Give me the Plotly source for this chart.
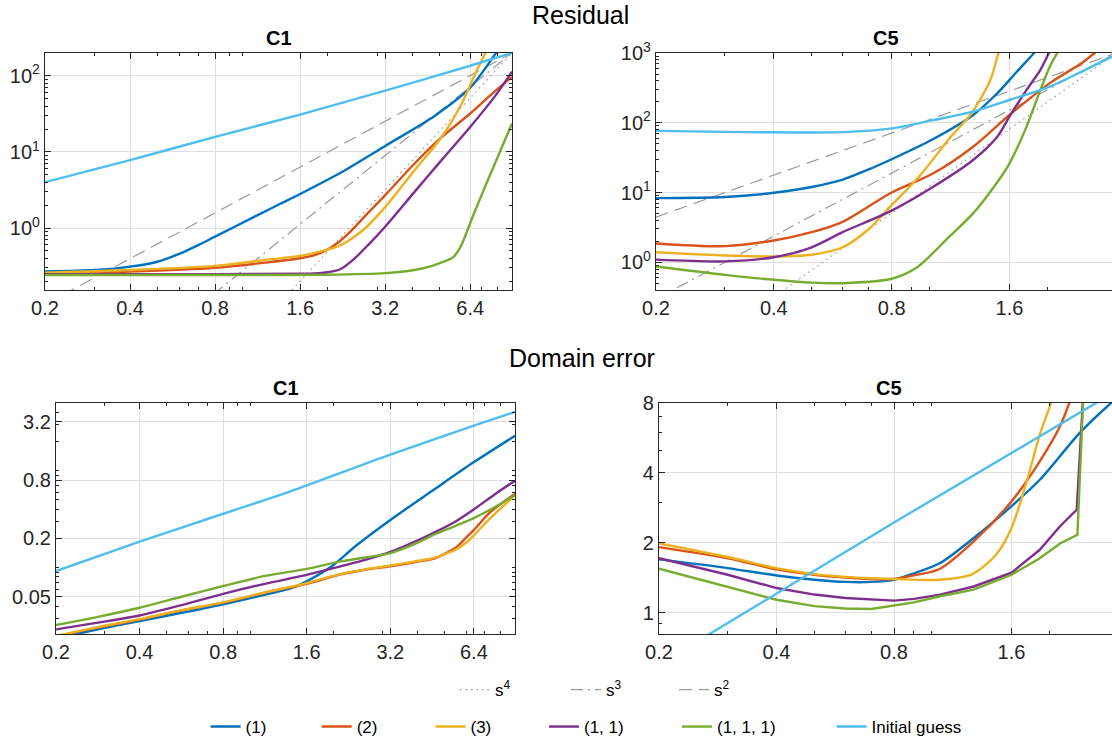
import math
import plotly.graph_objects as go

# ---------------- data ----------------
SERIES = ["(1)", "(2)", "(3)", "(1, 1)", "(1, 1, 1)", "Initial guess"]
COLORS = ["#0072BD", "#D95319", "#EDB120", "#7E2F8E", "#77AC30", "#4DBEEE"]

REF_NAMES = ["s<sup>4</sup>", "s<sup>3</sup>", "s<sup>2</sup>"]

# Residual, C1
res_c1_x1 = [0.2, 0.3, 0.4, 0.5, 0.6, 0.7, 0.8, 1.1, 1.35, 1.6, 2.2, 3.2, 4.8, 6.4, 7.9, 8.3]
res_c1_y1 = [0.268, 0.28, 0.31, 0.36, 0.46, 0.6, 0.77, 1.4, 2.05, 2.8, 5.2, 12, 30, 70, 200, 256]
res_c1_x2 = [0.2, 0.4, 0.8, 1.2, 1.6, 1.8, 2.0, 2.2, 2.4, 2.7, 3.2, 4.06, 5.06, 6.4, 7.8, 9]
res_c1_y2 = [0.254, 0.268, 0.30, 0.35, 0.40, 0.44, 0.52, 0.66, 0.88, 1.4, 2.7, 7.0, 15.5, 32, 62, 97]
res_c1_x3 = [0.2, 0.4, 0.8, 1.2, 1.6, 1.8, 2.0, 2.2, 2.4, 2.7, 3.2, 4.06, 5.06, 5.98, 6.6, 7.25, 7.5]
res_c1_y3 = [0.258, 0.28, 0.318, 0.38, 0.43, 0.47, 0.52, 0.58, 0.70, 0.97, 1.88, 5.7, 15.5, 43.6, 98, 200, 250]
res_c1_x11 = [0.2, 0.8, 1.6, 1.8, 2.0, 2.22, 2.48, 2.8, 3.2, 4.06, 5.06, 6.4, 7.8, 9]
res_c1_y11 = [0.246, 0.247, 0.25, 0.252, 0.262, 0.287, 0.39, 0.61, 1.04, 2.96, 7.75, 21.3, 53, 114]
res_c1_x111 = [0.2, 1.0, 2.0, 3.2, 4.06, 4.6, 5.0, 5.3, 5.56, 5.9, 6.25, 6.6, 7.4, 8.2, 9]
res_c1_y111 = [0.241, 0.241, 0.243, 0.255, 0.28, 0.31, 0.345, 0.375, 0.41, 0.555, 0.92, 1.55, 4.3, 10.5, 23.7]
res_c1_xig = [0.2, 0.4, 0.8, 1.6, 3.2, 6.4, 9]
res_c1_yig = [4.0, 7.8, 15.8, 31, 64, 136, 200]
# reference slopes (end points)
res_c1_ref_x = [0.2, 9]
res_c1_ref_s4 = [4.88e-5, 200]
res_c1_ref_s3 = [0.00219, 200]
res_c1_ref_s2 = [0.0988, 200]

# Residual, C5
res_c5_x1 = [0.2, 0.3, 0.4, 0.5, 0.6, 0.7, 0.8, 1.02, 1.29, 1.49, 1.66, 1.85, 1.95]
res_c5_y1 = [8.3, 8.6, 9.9, 12.0, 15.3, 21.5, 30, 58, 128, 265, 516, 1000, 1400]
res_c5_x2 = [0.2, 0.3, 0.4, 0.5, 0.6, 0.8, 1.02, 1.29, 1.6, 2.03, 2.45, 2.64, 2.75]
res_c5_y2 = [1.86, 1.70, 2.05, 2.7, 3.8, 10, 18.7, 45, 129, 370, 718, 1000, 1200]
res_c5_x3 = [0.2, 0.3, 0.4, 0.5, 0.6, 0.7, 0.8, 0.94, 1.12, 1.28, 1.43, 1.5, 1.54]
res_c5_y3 = [1.39, 1.25, 1.21, 1.28, 1.64, 3.0, 6.6, 16.8, 58, 137, 410, 1000, 1500]
res_c5_x11 = [0.2, 0.3, 0.4, 0.5, 0.6, 0.8, 1.02, 1.29, 1.49, 1.6, 1.77, 1.92, 2.02, 2.06]
res_c5_y11 = [1.09, 1.03, 1.18, 1.64, 2.7, 5.5, 12, 29, 63, 122, 296, 575, 1000, 1200]
res_c5_x111 = [0.2, 0.3, 0.4, 0.5, 0.62, 0.8, 0.93, 1.12, 1.29, 1.46, 1.6, 1.77, 1.92, 2.03, 2.12, 2.16]
res_c5_y111 = [0.87, 0.66, 0.56, 0.51, 0.505, 0.58, 0.85, 2.29, 4.97, 12, 26, 88, 296, 640, 1000, 1200]
res_c5_xig = [0.2, 0.3, 0.4, 0.5, 0.62, 0.8, 1.02, 1.29, 1.6, 2.03, 2.45, 2.93, 3.0]
res_c5_yig = [76.5, 74, 73, 72.5, 74, 83, 109, 144, 212, 330, 542, 891, 950]
res_c5_ref_x = [0.2, 3.0]
res_c5_ref_s4 = [0.0198, 1000]
res_c5_ref_s3 = [0.296, 1000]
res_c5_ref_s2 = [4.44, 1000]

# Domain error, C1
dom_c1_x1 = [0.2, 0.283, 0.4, 0.566, 0.8, 1.13, 1.39, 1.6, 1.94, 2.42, 3.2, 4.6, 6.4, 9]
dom_c1_y1 = [0.0185, 0.023, 0.028, 0.034, 0.0417, 0.0524, 0.0605, 0.072, 0.1, 0.17, 0.31, 0.64, 1.23, 2.3]
dom_c1_x2 = [0.2, 0.283, 0.4, 0.566, 0.8, 1.13, 1.6, 2.12, 2.6, 3.2, 4.0, 4.6, 5.0, 5.5, 6.06, 6.4, 7.3, 9]
dom_c1_y2 = [0.0195, 0.024, 0.029, 0.036, 0.0434, 0.055, 0.068, 0.085, 0.095, 0.103, 0.115, 0.124, 0.138, 0.16, 0.21, 0.245, 0.37, 0.58]
dom_c1_x3 = [0.2, 0.283, 0.4, 0.566, 0.8, 1.13, 1.6, 2.12, 2.6, 3.2, 4.0, 4.6, 5.0, 5.5, 6.06, 6.4, 7.3, 9]
dom_c1_y3 = [0.0197, 0.0243, 0.0293, 0.0363, 0.0437, 0.0553, 0.069, 0.086, 0.096, 0.105, 0.117, 0.126, 0.137, 0.153, 0.185, 0.215, 0.32, 0.56]
dom_c1_x11 = [0.2, 0.283, 0.4, 0.566, 0.8, 1.13, 1.6, 2.12, 2.6, 3.2, 4.0, 4.6, 5.5, 6.4, 7.6, 9]
dom_c1_y11 = [0.023, 0.027, 0.032, 0.041, 0.0536, 0.068, 0.084, 0.103, 0.12, 0.145, 0.19, 0.23, 0.3, 0.4, 0.57, 0.79]
dom_c1_x111 = [0.2, 0.283, 0.4, 0.566, 0.8, 1.13, 1.6, 2.12, 2.6, 3.2, 4.0, 4.6, 5.5, 6.4, 7.6, 9]
dom_c1_y111 = [0.0255, 0.031, 0.0385, 0.05, 0.0645, 0.082, 0.097, 0.116, 0.127, 0.141, 0.18, 0.219, 0.27, 0.325, 0.42, 0.56]
dom_c1_xig = [0.2, 0.4, 0.8, 1.39, 3.2, 6.4, 9]
dom_c1_yig = [0.092, 0.185, 0.36, 0.61, 1.47, 2.93, 4.06]

# Domain error, C5
dom_c5_x1 = [0.2, 0.3, 0.4, 0.5, 0.6, 0.7, 0.8, 0.9, 1.05, 1.28, 1.6, 1.89, 2.39, 2.9, 3.0]
dom_c5_y1 = [1.70, 1.56, 1.45, 1.39, 1.36, 1.36, 1.39, 1.48, 1.64, 2.10, 2.88, 3.74, 5.94, 8.1, 8.5]
dom_c5_x2 = [0.2, 0.3, 0.4, 0.5, 0.6, 0.7, 0.8, 0.9, 1.05, 1.28, 1.6, 1.89, 2.13, 2.25, 2.35]
dom_c5_y2 = [1.92, 1.72, 1.54, 1.46, 1.42, 1.40, 1.40, 1.45, 1.55, 2.03, 3.02, 4.49, 6.35, 8.0, 9.5]
dom_c5_x3 = [0.2, 0.3, 0.4, 0.5, 0.6, 0.7, 0.8, 1.05, 1.27, 1.46, 1.6, 1.75, 1.89, 2.02, 2.1]
dom_c5_y3 = [1.99, 1.74, 1.56, 1.47, 1.43, 1.41, 1.40, 1.39, 1.47, 1.78, 2.32, 3.68, 5.85, 8.0, 10.0]
dom_c5_x11 = [0.2, 0.3, 0.4, 0.5, 0.6, 0.7, 0.8, 0.9, 1.05, 1.28, 1.6, 1.89, 2.13, 2.35, 2.45]
dom_c5_y11 = [1.72, 1.46, 1.28, 1.20, 1.16, 1.14, 1.13, 1.15, 1.20, 1.30, 1.49, 1.87, 2.36, 2.78, 9.5]
dom_c5_x111 = [0.2, 0.3, 0.4, 0.5, 0.6, 0.7, 0.8, 0.9, 1.05, 1.28, 1.6, 1.89, 2.13, 2.36, 2.45]
dom_c5_y111 = [1.55, 1.30, 1.14, 1.07, 1.045, 1.04, 1.075, 1.11, 1.18, 1.26, 1.46, 1.72, 1.99, 2.17, 9.5]
dom_c5_xig = [0.2, 0.8, 3.0]
dom_c5_yig = [0.6, 2.45, 9.1]

# tick labels
c1_xticks = [0.2, 0.4, 0.8, 1.6, 3.2, 6.4]
c5_xticks = [0.2, 0.4, 0.8, 1.6]
res_c1_yticks = [1, 10, 100]
res_c5_yticks = [1, 10, 100, 1000]
dom_c1_yticks = [0.05, 0.2, 0.8, 3.2]
dom_c5_yticks = [1, 2, 4, 8]

# ---------------- figure ----------------
W, H = 1112, 745
FONT = "Liberation Sans, Arial, Helvetica, sans-serif"
AX = "#262626"
GRID = "#e0e0e0"
REF_COLOR = "#9a9a9a"
REF_DASH = ["1.5px,4px", "12px,5px,2px,5px", "13px,7px"]

fig = go.Figure()


def add_panel(xa, ya, series_x, series_y, ref_x=None, refs=None, legend_on=False,
              linear_idx=()):
    if refs is not None:
        for k, ry in enumerate(refs):
            fig.add_trace(go.Scatter(
                x=ref_x, y=ry, mode="lines", xaxis=xa, yaxis=ya,
                name=REF_NAMES[k], showlegend=legend_on,
                legend="legend%d" % (7 + k),
                line=dict(color=REF_COLOR, width=1.2, dash=REF_DASH[k]),
                hoverinfo="skip"))
    for i, (sx, sy) in enumerate(zip(series_x, series_y)):
        shape = "linear" if i in linear_idx else "spline"
        line = dict(color=COLORS[i], width=2.4, shape=shape)
        if shape == "spline":
            line["smoothing"] = 0.8
        fig.add_trace(go.Scatter(
            x=sx, y=sy, mode="lines", xaxis=xa, yaxis=ya,
            name=SERIES[i], showlegend=legend_on,
            legend="legend" if i == 0 else "legend%d" % (i + 1),
            line=line))


add_panel("x", "y",
          [res_c1_x1, res_c1_x2, res_c1_x3, res_c1_x11, res_c1_x111, res_c1_xig],
          [res_c1_y1, res_c1_y2, res_c1_y3, res_c1_y11, res_c1_y111, res_c1_yig],
          res_c1_ref_x, [res_c1_ref_s4, res_c1_ref_s3, res_c1_ref_s2], legend_on=True)
add_panel("x2", "y2",
          [res_c5_x1, res_c5_x2, res_c5_x3, res_c5_x11, res_c5_x111, res_c5_xig],
          [res_c5_y1, res_c5_y2, res_c5_y3, res_c5_y11, res_c5_y111, res_c5_yig],
          res_c5_ref_x, [res_c5_ref_s4, res_c5_ref_s3, res_c5_ref_s2])
add_panel("x3", "y3",
          [dom_c1_x1, dom_c1_x2, dom_c1_x3, dom_c1_x11, dom_c1_x111, dom_c1_xig],
          [dom_c1_y1, dom_c1_y2, dom_c1_y3, dom_c1_y11, dom_c1_y111, dom_c1_yig])
add_panel("x4", "y4",
          [dom_c5_x1, dom_c5_x2, dom_c5_x3, dom_c5_x11, dom_c5_x111, dom_c5_xig],
          [dom_c5_y1, dom_c5_y2, dom_c5_y3, dom_c5_y11, dom_c5_y111, dom_c5_yig],
          linear_idx=(3, 4))


def fmt(v):
    return ("%g" % v)


def pow_text(v):
    return "10<sup>%d</sup>" % round(math.log10(v))


def log_minor(lo, hi, skip):
    vals = []
    for e in range(-3, 4):
        for m in range(1, 10):
            v = round(m * 10 ** e, 6)
            if lo * 0.999 <= v <= hi * 1.001 and all(abs(v - s) > 1e-9 for s in skip):
                vals.append(v)
    return vals


def axis(domain, rng, tickvals, ticktext, anchor, minor_vals, mirror=True):
    return dict(
        type="log", domain=domain, range=[math.log10(rng[0]), math.log10(rng[1])],
        anchor=anchor, tickmode="array", tickvals=tickvals, ticktext=ticktext,
        showline=True, linecolor=AX, linewidth=1.2, mirror="ticks" if mirror else False,
        ticks="inside", ticklen=6, tickwidth=1, tickcolor=AX,
        showgrid=True, gridcolor=GRID, gridwidth=1, zeroline=False, automargin=False,
        tickfont=dict(family=FONT, size=20, color=AX),
        minor=dict(tickmode="array", tickvals=minor_vals, ticks="inside",
                   ticklen=3, tickwidth=1, tickcolor=AX, showgrid=False),
    )


def dx(a, b):
    return [a / W, min(b / W, 1.0)]


def dy(top, bottom):
    return [1 - bottom / H, 1 - top / H]


TL_X, TR_X = dx(45, 512), dx(656, 1112)
BL_X, BR_X = dx(56, 515), dx(659, 1112)
TOP_Y, BOT_Y = dy(53, 290), dy(403, 634)

fig.update_layout(
    xaxis=axis(TL_X, (0.2, 9), c1_xticks, [fmt(v) for v in c1_xticks], "y",
               log_minor(0.2, 9, c1_xticks)),
    yaxis=axis(TOP_Y, (0.153, 200), res_c1_yticks, [pow_text(v) for v in res_c1_yticks], "x",
               log_minor(0.153, 200, res_c1_yticks)),
    xaxis2=axis(TR_X, (0.2, 2.926), c5_xticks, [fmt(v) for v in c5_xticks], "y2",
                log_minor(0.2, 2.926, c5_xticks)),
    yaxis2=axis(TOP_Y, (0.40, 1000), res_c5_yticks, [pow_text(v) for v in res_c5_yticks], "x2",
                log_minor(0.40, 1000, res_c5_yticks), mirror=False),
    xaxis3=axis(BL_X, (0.2, 9), c1_xticks, [fmt(v) for v in c1_xticks], "y3",
                log_minor(0.2, 9, c1_xticks)),
    yaxis3=axis(BOT_Y, (0.0206, 5.02), dom_c1_yticks, [fmt(v) for v in dom_c1_yticks], "x3",
                log_minor(0.0206, 5.02, dom_c1_yticks)),
    xaxis4=axis(BR_X, (0.2, 2.894), c5_xticks, [fmt(v) for v in c5_xticks], "y4",
                log_minor(0.2, 2.894, c5_xticks)),
    yaxis4=axis(BOT_Y, (0.812, 8), dom_c5_yticks, [fmt(v) for v in dom_c5_yticks], "x4",
                log_minor(0.812, 8, dom_c5_yticks), mirror=False),
)


# titles
def ann(text, xpx, ypx, size, bold=False):
    return dict(text="<b>%s</b>" % text if bold else text, x=xpx / W, y=1 - ypx / H,
                xref="paper", yref="paper", xanchor="center", yanchor="middle",
                showarrow=False, font=dict(family=FONT, size=size, color="#000000"))


fig.update_layout(annotations=[
    ann("Residual", 580, 15, 25),
    ann("Domain error", 582, 358, 25),
    ann("C1", 278.5, 38, 20, True),
    ann("C5", 886, 38, 20, True),
    ann("C1", 285.5, 388, 20, True),
    ann("C5", 888.5, 388, 20, True),
])


# legends: one per entry so each sits where the reference puts it
def leg(text_px, ypx):
    return dict(x=(text_px - 42) / W, xanchor="left", y=1 - ypx / H, yanchor="middle",
                orientation="h", bgcolor="rgba(0,0,0,0)", borderwidth=0,
                font=dict(family=FONT, size=17, color="#000000"), itemwidth=30,
                itemclick=False, itemdoubleclick=False)


row2 = [247.6, 358.7, 472.5, 586, 719, 873.6]
row1 = [497, 608, 716]
legs = {}
for i, tx in enumerate(row2):
    legs["legend" if i == 0 else "legend%d" % (i + 1)] = leg(tx, 727)
for k, tx in enumerate(row1):
    legs["legend%d" % (7 + k)] = leg(tx, 690)

fig.update_layout(
    width=W, height=H, margin=dict(l=0, r=0, t=0, b=0, autoexpand=False),
    paper_bgcolor="white", plot_bgcolor="white",
    font=dict(family=FONT, color=AX),
    **legs,
)

fig.write_html("out.html",
               config={"displayModeBar": False},
               post_script="document.body.style.margin='0px';"
                           "document.body.style.overflow='hidden';")
